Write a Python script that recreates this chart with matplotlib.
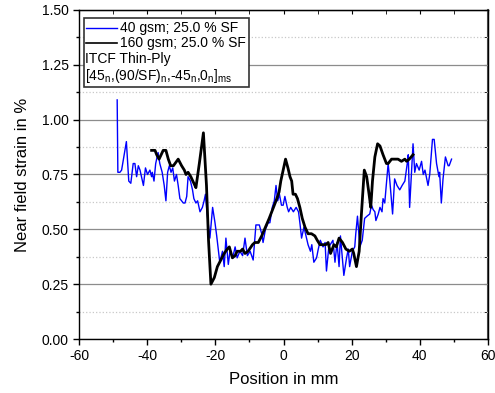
import matplotlib
matplotlib.use('Agg')
import matplotlib.pyplot as plt
from matplotlib.ticker import MultipleLocator

plt.rcParams['font.family'] = ['Liberation Sans', 'DejaVu Sans']
plt.rcParams['mathtext.fontset'] = 'custom'
plt.rcParams['mathtext.rm'] = 'Liberation Sans'
plt.rcParams['mathtext.it'] = 'Liberation Sans'
plt.rcParams['axes.unicode_minus'] = False

# 40 gsm series (blue)
x_40 = [-48.8, -48.6, -48.0, -47.5, -46.1, -45.4, -44.8, -44.1, -43.6, -43.1, -42.6, -42.1,
        -41.1, -40.5, -39.9, -39.2, -38.7, -38.5, -38.0, -37.5, -36.8, -36.3, -35.6, -35.0,
        -34.5, -34.0, -33.5, -33.0, -32.5, -32.0, -31.4, -30.9, -30.4, -29.4, -28.9, -28.4,
        -28.0, -27.3, -26.7, -26.3, -25.7, -25.2, -24.5, -23.8, -23.3, -22.9, -22.4, -21.6,
        -20.8, -20.1, -19.6, -18.7, -17.9, -17.4, -16.9, -16.2, -15.7, -14.9, -14.2, -13.6,
        -12.8, -12.0, -11.3, -10.6, -9.8, -8.9, -8.1, -7.1, -6.4, -6.0, -5.3, -4.5, -4.0,
        -3.3, -2.7, -2.2, -1.7, -1.2, -0.6, -0.1, 0.4, 1.1, 1.5, 2.1, 2.9, 3.7, 4.4, 4.8,
        5.3, 6.0, 7.2, 7.9, 8.3, 8.9, 9.7, 10.2, 10.8, 11.6, 12.2, 12.6, 13.3, 14.5, 15.1,
        15.7, 16.3, 16.7, 17.7, 18.5, 19.0, 19.4, 20.2, 20.9, 21.2, 21.7, 22.4, 23.1, 23.8,
        24.5, 25.3, 25.8, 26.3, 26.8, 27.1, 27.8, 28.3, 28.9, 29.2, 29.7, 30.7, 31.2, 32.0,
        32.6, 33.3, 34.1, 34.8, 35.6, 36.3, 36.6, 37.0, 38.0, 38.5, 39.0, 39.8, 40.5, 41.0,
        41.5, 42.4, 42.9, 43.7, 44.2, 44.9, 45.6, 45.8, 46.3, 46.8, 47.5, 48.3, 48.6, 49.3]
y_40 = [1.09, 0.76, 0.76, 0.77, 0.90, 0.72, 0.71, 0.80, 0.80, 0.74, 0.79, 0.77,
        0.70, 0.78, 0.75, 0.77, 0.74, 0.76, 0.72, 0.80, 0.85, 0.80, 0.76, 0.70,
        0.63, 0.76, 0.79, 0.76, 0.78, 0.72, 0.75, 0.70, 0.64, 0.62, 0.62, 0.65,
        0.74, 0.72, 0.68, 0.64, 0.62, 0.63, 0.58, 0.60, 0.63, 0.66, 0.57, 0.46,
        0.60, 0.53, 0.47, 0.35, 0.40, 0.33, 0.46, 0.34, 0.40, 0.37, 0.42, 0.37,
        0.40, 0.38, 0.46, 0.38, 0.40, 0.36, 0.52, 0.52, 0.48, 0.44, 0.50, 0.53, 0.53,
        0.60, 0.63, 0.70, 0.63, 0.66, 0.61, 0.61, 0.65, 0.60, 0.58, 0.60, 0.58, 0.60, 0.58, 0.53,
        0.46, 0.51, 0.43, 0.40, 0.43, 0.35, 0.37, 0.41, 0.45, 0.42, 0.44, 0.31, 0.42, 0.45, 0.35,
        0.44, 0.33, 0.47, 0.29, 0.37, 0.41, 0.33, 0.40, 0.42, 0.48, 0.56, 0.42, 0.45, 0.55,
        0.56, 0.57, 0.61, 0.59, 0.58, 0.54, 0.57, 0.60, 0.58, 0.64, 0.62, 0.80, 0.72, 0.57,
        0.73, 0.70, 0.68, 0.70, 0.72, 0.80, 0.84, 0.60, 0.89, 0.76, 0.80, 0.77, 0.81, 0.75,
        0.77, 0.70, 0.75, 0.91, 0.91, 0.80, 0.74, 0.76, 0.62, 0.73, 0.83, 0.79, 0.79, 0.82]

# 160 gsm series (black)
x_160 = [-38.7, -37.7, -37.2, -36.5, -35.3, -34.5, -33.8, -33.1, -32.3, -30.9, -29.9, -29.1,
         -28.6, -28.0, -27.2, -26.3, -25.7, -24.7, -23.5, -22.6, -22.0, -21.3, -20.3, -19.4,
         -18.4, -17.4, -16.5, -15.9, -15.0, -14.2, -13.6, -12.6, -12.0, -11.3, -10.4, -9.1,
         -8.4, -7.4, -6.4, -5.3, -4.2, -3.2, -2.2, -1.3, -0.8, -0.1, 0.6, 1.3, 1.9, 2.4, 2.8,
         3.5, 4.1, 4.8, 5.5, 6.3, 7.2, 8.2, 9.2, 9.9, 10.7, 11.4, 12.4, 13.1, 13.8, 14.8,
         15.5, 16.3, 17.3, 18.3, 19.3, 20.2, 20.6, 21.4, 22.2, 22.9, 23.7, 24.4, 25.1, 25.6,
         26.1, 26.8, 27.6, 28.3, 29.2, 30.2, 30.7, 31.7, 32.6, 33.6, 34.6, 35.6, 36.1, 36.9, 38.0]
y_160 = [0.86, 0.86, 0.84, 0.82, 0.86, 0.86, 0.82, 0.79, 0.79, 0.82, 0.79, 0.77,
         0.75, 0.76, 0.74, 0.71, 0.69, 0.80, 0.94, 0.70, 0.45, 0.25, 0.28, 0.33,
         0.36, 0.39, 0.41, 0.42, 0.37, 0.38, 0.40, 0.40, 0.41, 0.39, 0.40, 0.43,
         0.44, 0.44, 0.47, 0.51, 0.55, 0.59, 0.63, 0.67, 0.72, 0.77, 0.82, 0.78, 0.74, 0.72, 0.66,
         0.66, 0.64, 0.60, 0.55, 0.51, 0.48, 0.48, 0.47, 0.45, 0.43, 0.43, 0.43, 0.44, 0.39, 0.43,
         0.42, 0.46, 0.44, 0.41, 0.40, 0.41, 0.39, 0.33, 0.40, 0.58, 0.77, 0.74, 0.66, 0.60,
         0.72, 0.83, 0.89, 0.88, 0.84, 0.80, 0.80, 0.82, 0.82, 0.82, 0.81, 0.82, 0.81, 0.82, 0.84]

fig = plt.figure(figsize=(4.95, 3.93), dpi=100)
ax = fig.add_axes([0.1596, 0.1374, 0.8263, 0.8372])

ax.plot(x_40, y_40, color='#0000ff', lw=1.0, zorder=3)
ax.plot(x_160, y_160, color='black', lw=2.0, zorder=4)

ax.set_xlim(-60, 60)
ax.set_ylim(0, 1.5)
ax.xaxis.set_major_locator(MultipleLocator(20))
ax.xaxis.set_minor_locator(MultipleLocator(10))
ax.yaxis.set_major_locator(MultipleLocator(0.25))
ax.yaxis.set_minor_locator(MultipleLocator(0.125))
ax.yaxis.set_major_formatter(plt.FormatStrFormatter('%.2f'))

ax.grid(which='major', axis='y', color='#8c8c8c', lw=0.9, ls='-')
ax.grid(which='minor', axis='y', color='#c8c8c8', lw=0.9, ls=':')
ax.set_axisbelow(True)

ax.tick_params(which='major', direction='out', length=4, width=1, labelsize=10,
               colors='black')
ax.tick_params(which='minor', direction='out', length=2.5, width=1)
# inward ticks on top and right
ax2 = ax.secondary_xaxis('top')
ax2.xaxis.set_major_locator(MultipleLocator(20))
ax2.xaxis.set_minor_locator(MultipleLocator(10))
ax2.tick_params(which='both', direction='in', length=3, labeltop=False)
ax3 = ax.secondary_yaxis('right')
ax3.yaxis.set_major_locator(MultipleLocator(0.25))
ax3.yaxis.set_minor_locator(MultipleLocator(0.125))
ax3.tick_params(which='both', direction='in', length=3, labelright=False)
ax3.spines['right'].set_color('#555555')
ax3.spines['right'].set_linewidth(1.5)

for s in ax.spines.values():
    s.set_linewidth(1.0)

ax.set_xlabel('Position in mm', fontsize=12, labelpad=6)
ax.set_ylabel('Near field strain in %', fontsize=12, labelpad=8)

# legend box drawn by hand
ax.add_patch(plt.Rectangle((0.012, 0.766), 0.404, 0.21, transform=ax.transAxes,
                           facecolor='white', edgecolor='#333333', lw=1.2, zorder=5))
ax.plot([0.017, 0.093], [0.945, 0.945], transform=ax.transAxes, color='#0000ff', lw=1.0, zorder=6)
ax.plot([0.017, 0.093], [0.901, 0.901], transform=ax.transAxes, color='black', lw=1.2, zorder=6)
fs = 10
ax.text(0.100, 0.945, '40 gsm; 25.0 % SF', transform=ax.transAxes, fontsize=fs,
        va='center', ha='left', zorder=6)
ax.text(0.100, 0.901, '160 gsm; 25.0 % SF', transform=ax.transAxes, fontsize=fs,
        va='center', ha='left', zorder=6)
ax.text(0.015, 0.852, 'ITCF Thin-Ply', transform=ax.transAxes, fontsize=fs,
        va='center', ha='left', zorder=6)
ax.text(0.015, 0.800, r'[45$_\mathregular{n}$,(90/SF)$_\mathregular{n}$,-45$_\mathregular{n}$,0$_\mathregular{n}$]$_\mathregular{ms}$',
        transform=ax.transAxes, fontsize=fs, va='center', ha='left', zorder=6)

fig.savefig('out.png', dpi=100)
